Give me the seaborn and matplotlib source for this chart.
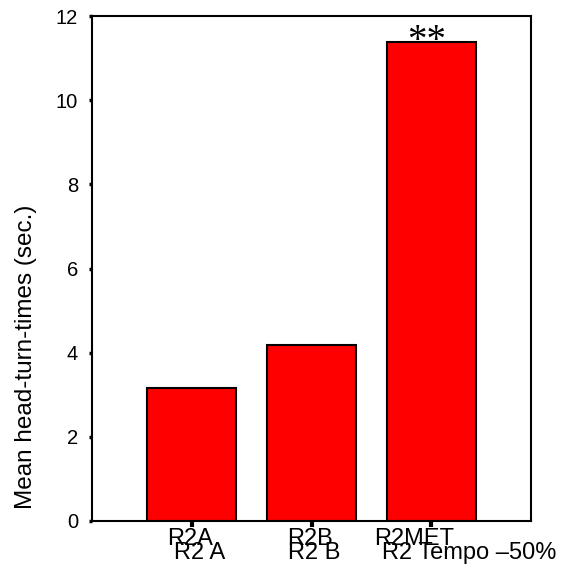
import matplotlib
matplotlib.use("Agg")
import matplotlib.pyplot as plt
import seaborn as sns
import pandas as pd

# Data
categories = ["R2A", "R2B", "R2MET"]
sub_labels = ["R2 A", "R2 B", "R2 Tempo \u201350%"]
mean_times = [3.15, 4.18, 11.38]
significance = ["", "", "**"]
y_label = "Mean head-turn-times (sec.)"
y_ticks = [0, 2, 4, 6, 8, 10, 12]

sns.set_theme(style="white")
plt.rcParams["font.family"] = ["Liberation Sans", "DejaVu Sans"]
plt.rcParams["text.color"] = "black"
plt.rcParams["axes.labelcolor"] = "black"
plt.rcParams["xtick.color"] = "black"
plt.rcParams["ytick.color"] = "black"

df = pd.DataFrame({"cond": categories, "mean": mean_times})

fig = plt.figure(figsize=(5.63, 5.76), dpi=100)
ax = fig.add_axes([0.1634, 0.0955, 0.7798, 0.8767])

sns.barplot(data=df, x="cond", y="mean", order=categories, color="#ff0000",
            saturation=1, edgecolor="black", linewidth=1.5, width=0.74, ax=ax)

ax.set_xlim(-0.83, 2.83)
ax.set_ylim(0, 12)
ax.set_yticks(y_ticks)
ax.set_yticklabels([str(t) for t in y_ticks], fontsize=14.5)
ax.set_xticks(range(len(categories)))
ax.set_xticklabels([])
ax.set_xlabel("")
ax.set_ylabel(y_label, fontsize=17.5)
ax.yaxis.set_label_coords(-0.125, 0.325)

for s in ax.spines.values():
    s.set_visible(True)
    s.set_color("black")
    s.set_linewidth(1.5)

ax.tick_params(axis="y", which="major", direction="out", length=2, width=2.5,
               color="black", left=True, pad=8)
ax.tick_params(axis="x", which="major", direction="out", length=4, width=3,
               color="black", bottom=True)

# two-level category labels
upper_dx = [-1.5, -1.5, -17]
lower_dx = [-17.5, -23.5, -49]
for i, (lab, sub) in enumerate(zip(categories, sub_labels)):
    ax.annotate(lab, xy=(i, 0), xycoords=("data", "axes fraction"),
                xytext=(upper_dx[i], -7.5), textcoords="offset pixels",
                ha="center", va="top", fontsize=17, annotation_clip=False)
    ax.annotate(sub, xy=(i, 0), xycoords=("data", "axes fraction"),
                xytext=(lower_dx[i], -21.5), textcoords="offset pixels",
                ha="left", va="top", fontsize=17, annotation_clip=False)

# significance markers
for i, (v, sig) in enumerate(zip(mean_times, significance)):
    if sig:
        ax.annotate(sig, xy=(i, v), xytext=(-5, -18), textcoords="offset pixels",
                    ha="center", va="bottom", fontsize=28,
                    family=["Liberation Serif", "DejaVu Serif"])

fig.savefig("out.png", dpi=100)
